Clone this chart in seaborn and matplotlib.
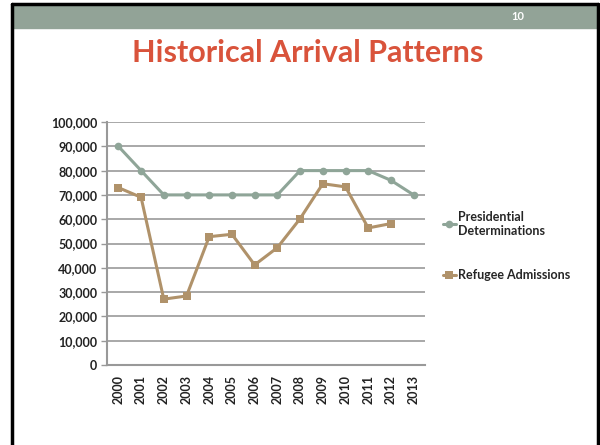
import pandas as pd
import seaborn as sns
import matplotlib.pyplot as plt
from matplotlib.patches import Rectangle
from matplotlib.lines import Line2D

# Data
years = [2000, 2001, 2002, 2003, 2004, 2005, 2006, 2007, 2008, 2009, 2010, 2011, 2012, 2013]
presidential = [90000, 80000, 70000, 70000, 70000, 70000, 70000, 70000, 80000, 80000, 80000, 80000, 76000, 70000]
refugee = [73000, 69000, 27100, 28400, 52800, 53800, 41200, 48300, 60200, 74600, 73300, 56400, 58200, None]
series_names = ["Presidential\nDeterminations", "Refugee Admissions"]
y_ticks = list(range(0, 100001, 10000))

GREEN = "#8fa598"
TAN = "#b0926a"
TITLE_RED = "#d9533b"
BAND = "#92a397"

sns.set_theme(style="white")
plt.rcParams["font.family"] = ["Lato", "DejaVu Sans"]

pos = list(range(len(years)))
df = pd.DataFrame({
    "pos": pos * 2,
    "value": presidential + refugee,
    "series": [series_names[0]] * len(years) + [series_names[1]] * len(years),
}).dropna()

fig = plt.figure(figsize=(6, 4.45), dpi=100)

# slide frame and header band
fig.patches.append(Rectangle((13 / 600, 1 - 28 / 445), 584 / 600, 23 / 445,
                             transform=fig.transFigure, color=BAND, zorder=0))
fig.lines.append(Line2D([11.5 / 600, 11.5 / 600], [0, 1 - 4 / 445], transform=fig.transFigure,
                        color="black", lw=2.5))
fig.lines.append(Line2D([598 / 600, 598 / 600], [0, 1 - 4 / 445], transform=fig.transFigure,
                        color="black", lw=2.5))
fig.lines.append(Line2D([11.5 / 600, 598 / 600], [1 - 4 / 445, 1 - 4 / 445], transform=fig.transFigure,
                        color="black", lw=2.5))
fig.text(518 / 600, 1 - 17 / 445, "10", color="white", fontsize=8, fontweight="bold",
         ha="center", va="center")
fig.text(308 / 600, 1 - 53 / 445, "Historical Arrival Patterns", color=TITLE_RED,
         fontsize=22, fontweight="bold", ha="center", va="center")

ax = fig.add_axes([107 / 600, 80 / 445, 318 / 600, 243 / 445])
sns.lineplot(data=df, x="pos", y="value", hue="series", style="series",
             palette=[GREEN, TAN], markers=["o", "s"], dashes=False,
             markersize=5.5, linewidth=2.2, markeredgewidth=0, ax=ax)

ax.set_xlim(-0.5, len(years) - 0.5)
ax.set_ylim(0, 100000)
ax.set_yticks(y_ticks)
ax.set_yticklabels([f"{v:,}" for v in y_ticks], fontsize=9, fontweight="bold", color="#222222")
ax.set_xticks(pos)
ax.set_xticklabels([str(y) for y in years], rotation=90, fontsize=9, fontweight="bold", color="#222222")
ax.set_xticks([p - 0.5 for p in pos] + [len(years) - 0.5], minor=True)
ax.tick_params(axis="x", which="major", length=0, pad=7)
ax.tick_params(axis="x", which="minor", length=4, color="#999999", width=1)
ax.tick_params(axis="y", length=4, color="#999999", width=1, left=True, pad=3)
ax.set_xlabel("")
ax.set_ylabel("")
ax.yaxis.grid(True, color="#999999", linewidth=1.2)
ax.set_axisbelow(True)
for side in ["top", "right"]:
    ax.spines[side].set_visible(False)
for side in ["left", "bottom"]:
    ax.spines[side].set_color("#999999")
    ax.spines[side].set_linewidth(1.5)

ax.legend(loc="center left", bbox_to_anchor=(1.02, 0.49), frameon=False,
          prop={"weight": "bold", "size": 9}, handlelength=1.1,
          handletextpad=0.15, labelspacing=2.6)

fig.savefig("out.png", dpi=100)
